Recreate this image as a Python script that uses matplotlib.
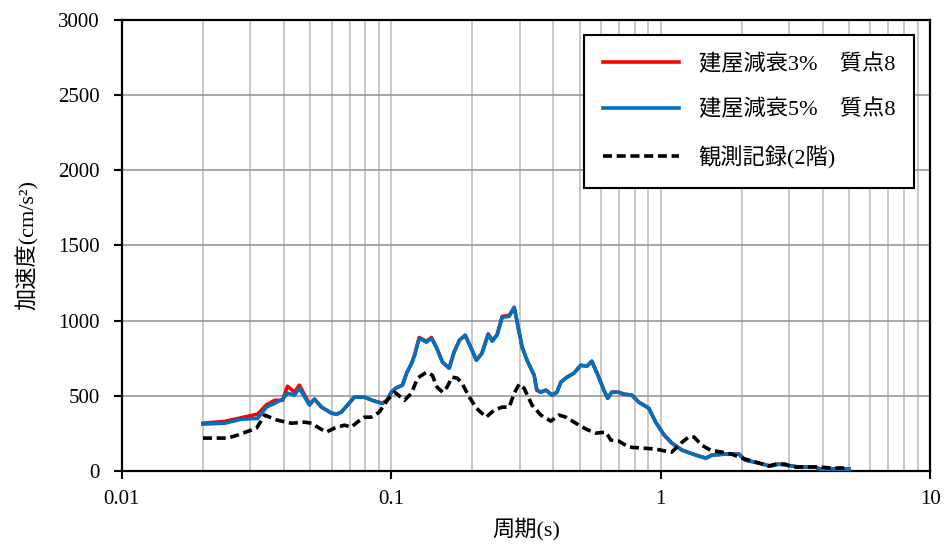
import matplotlib.pyplot as plt
from matplotlib.ticker import LogLocator, NullFormatter, FixedLocator

# 周期 (s)
period = [0.020, 0.0241, 0.0278, 0.0319, 0.0344, 0.0369, 0.0395, 0.0412, 0.0437, 0.0456,
          0.0497, 0.0519, 0.0551, 0.0600, 0.0626, 0.0653, 0.0729, 0.0794, 0.0865, 0.0926,
          0.0965, 0.100, 0.104, 0.110, 0.114, 0.119, 0.122, 0.127, 0.135, 0.141,
          0.147, 0.155, 0.164, 0.171, 0.179, 0.188, 0.198, 0.207, 0.217, 0.229,
          0.237, 0.247, 0.258, 0.274, 0.286, 0.306, 0.319, 0.339, 0.347, 0.359,
          0.375, 0.395, 0.412, 0.426, 0.449, 0.476, 0.505, 0.532, 0.555, 0.589,
          0.615, 0.636, 0.658, 0.699, 0.729, 0.781, 0.829, 0.903, 0.958, 1.03,
          1.10, 1.20, 1.35, 1.47, 1.55, 1.74, 1.95, 2.06, 2.31, 2.56,
          2.74, 2.93, 3.24, 3.75, 3.91, 5.0]

# 建屋減衰3% 質点8
acc_h3 = [318, 330, 355, 378, 440, 470, 470, 564, 525, 571,
          445, 478, 425, 385, 378, 392, 491, 491, 465, 451,
          470, 524, 551, 571, 650, 717, 770, 888, 862, 888,
          823, 723, 684, 790, 869, 903, 816, 737, 783, 912,
          868, 906, 1028, 1035, 1088, 823, 737, 637, 538, 524,
          538, 505, 524, 591, 624, 650, 703, 697, 730, 624,
          538, 484, 524, 524, 511, 505, 458, 418, 325, 239,
          186, 139, 106, 86, 106, 113, 113, 73, 53, 33,
          46, 40, 27, 27, 13, 13]

# 建屋減衰5% 質点8
acc_h5 = [312, 318, 345, 350, 425, 450, 478, 518, 505, 551,
          438, 478, 425, 385, 378, 392, 491, 491, 465, 451,
          470, 524, 551, 571, 650, 717, 770, 883, 856, 883,
          823, 723, 684, 790, 869, 903, 816, 737, 783, 909,
          863, 903, 1022, 1029, 1088, 823, 737, 637, 538, 524,
          538, 505, 524, 591, 624, 650, 703, 697, 730, 624,
          538, 484, 524, 524, 511, 505, 458, 418, 325, 239,
          186, 139, 106, 86, 106, 113, 113, 73, 53, 33,
          46, 40, 27, 27, 13, 13]

# 観測記録(2階)
period_obs = [0.020, 0.0247, 0.0269, 0.0316, 0.0330, 0.0339, 0.0378, 0.0426, 0.0476, 0.0506,
              0.0541, 0.0574, 0.0615, 0.0670, 0.0711, 0.0748, 0.0794, 0.0843, 0.0903, 0.0966,
              0.103, 0.112, 0.119, 0.125, 0.135, 0.142, 0.148, 0.155, 0.161, 0.168,
              0.176, 0.183, 0.195, 0.207, 0.225, 0.241, 0.258, 0.274, 0.286, 0.298,
              0.311, 0.333, 0.359, 0.391, 0.419, 0.445, 0.484, 0.528, 0.575, 0.626,
              0.653, 0.699, 0.761, 0.851, 0.958, 1.04, 1.10, 1.19, 1.27, 1.33,
              1.42, 1.53, 1.68, 1.83, 2.00, 2.25, 2.51, 2.67, 2.90, 3.06,
              3.53, 3.89, 4.30, 4.76, 5.0]
acc_obs = [219, 219, 239, 285, 338, 372, 338, 318, 325, 318,
           285, 259, 285, 305, 292, 325, 358, 358, 392, 471,
           524, 471, 518, 617, 657, 637, 557, 524, 557, 624,
           617, 584, 491, 418, 358, 405, 425, 425, 518, 577,
           551, 438, 372, 332, 372, 358, 318, 279, 252, 259,
           206, 199, 159, 153, 146, 133, 126, 186, 226, 226,
           172, 139, 126, 113, 86, 60, 33, 46, 46, 27,
           27, 27, 20, 20, 20]

plt.rcParams['font.family'] = ['Liberation Serif', 'Noto Sans CJK JP']
plt.rcParams['font.size'] = 15

fig = plt.figure(figsize=(9.52, 5.49), dpi=100)
ax = fig.add_axes([0.128, 0.142, 0.849, 0.822])

ax.plot(period, acc_h3, color='#FF0000', lw=2.6, label='建屋減衰3%\u3000質点8', zorder=3)
ax.plot(period, acc_h5, color='#0070C0', lw=2.6, label='建屋減衰5%\u3000質点8', zorder=4)
ax.plot(period_obs, acc_obs, color='black', lw=2.6, dashes=(2.5, 1.3), label='観測記録(2階)', zorder=5)

ax.set_xscale('log')
ax.set_xlim(0.01, 10)
ax.set_ylim(0, 3000)
ax.set_yticks([0, 500, 1000, 1500, 2000, 2500, 3000])
ax.xaxis.set_major_locator(FixedLocator([0.01, 0.1, 1, 10]))
ax.set_xticklabels(['0.01', '0.1', '1', '10'])
ax.xaxis.set_minor_locator(LogLocator(base=10, subs=range(2, 10)))
ax.xaxis.set_minor_formatter(NullFormatter())

# griglia
ax.grid(True, which='both', axis='x', color='#BFBFBF', lw=1.2)
ax.grid(True, which='major', axis='y', color='#999999', lw=1.2)
ax.set_axisbelow(True)

for s in ax.spines.values():
    s.set_linewidth(1.6)
    s.set_color('black')
ax.tick_params(which='major', direction='out', length=6, width=1.5, colors='black')
ax.tick_params(axis='y', pad=10)
ax.tick_params(axis='x', pad=8)
ax.tick_params(which='minor', length=0)

ax.set_xlabel('周期(s)', fontsize=16, labelpad=6)
ax.set_ylabel('加速度(cm/s²)', fontsize=16, labelpad=14)

leg = ax.legend(loc='upper right', bbox_to_anchor=(0.98, 0.967), borderaxespad=0,
                fontsize=16, handlelength=3.4, labelspacing=1.1, fancybox=False, framealpha=1,
                edgecolor='black', borderpad=0.85, handletextpad=0.9)
leg.get_frame().set_linewidth(1.5)

fig.savefig('out.png', dpi=100)
